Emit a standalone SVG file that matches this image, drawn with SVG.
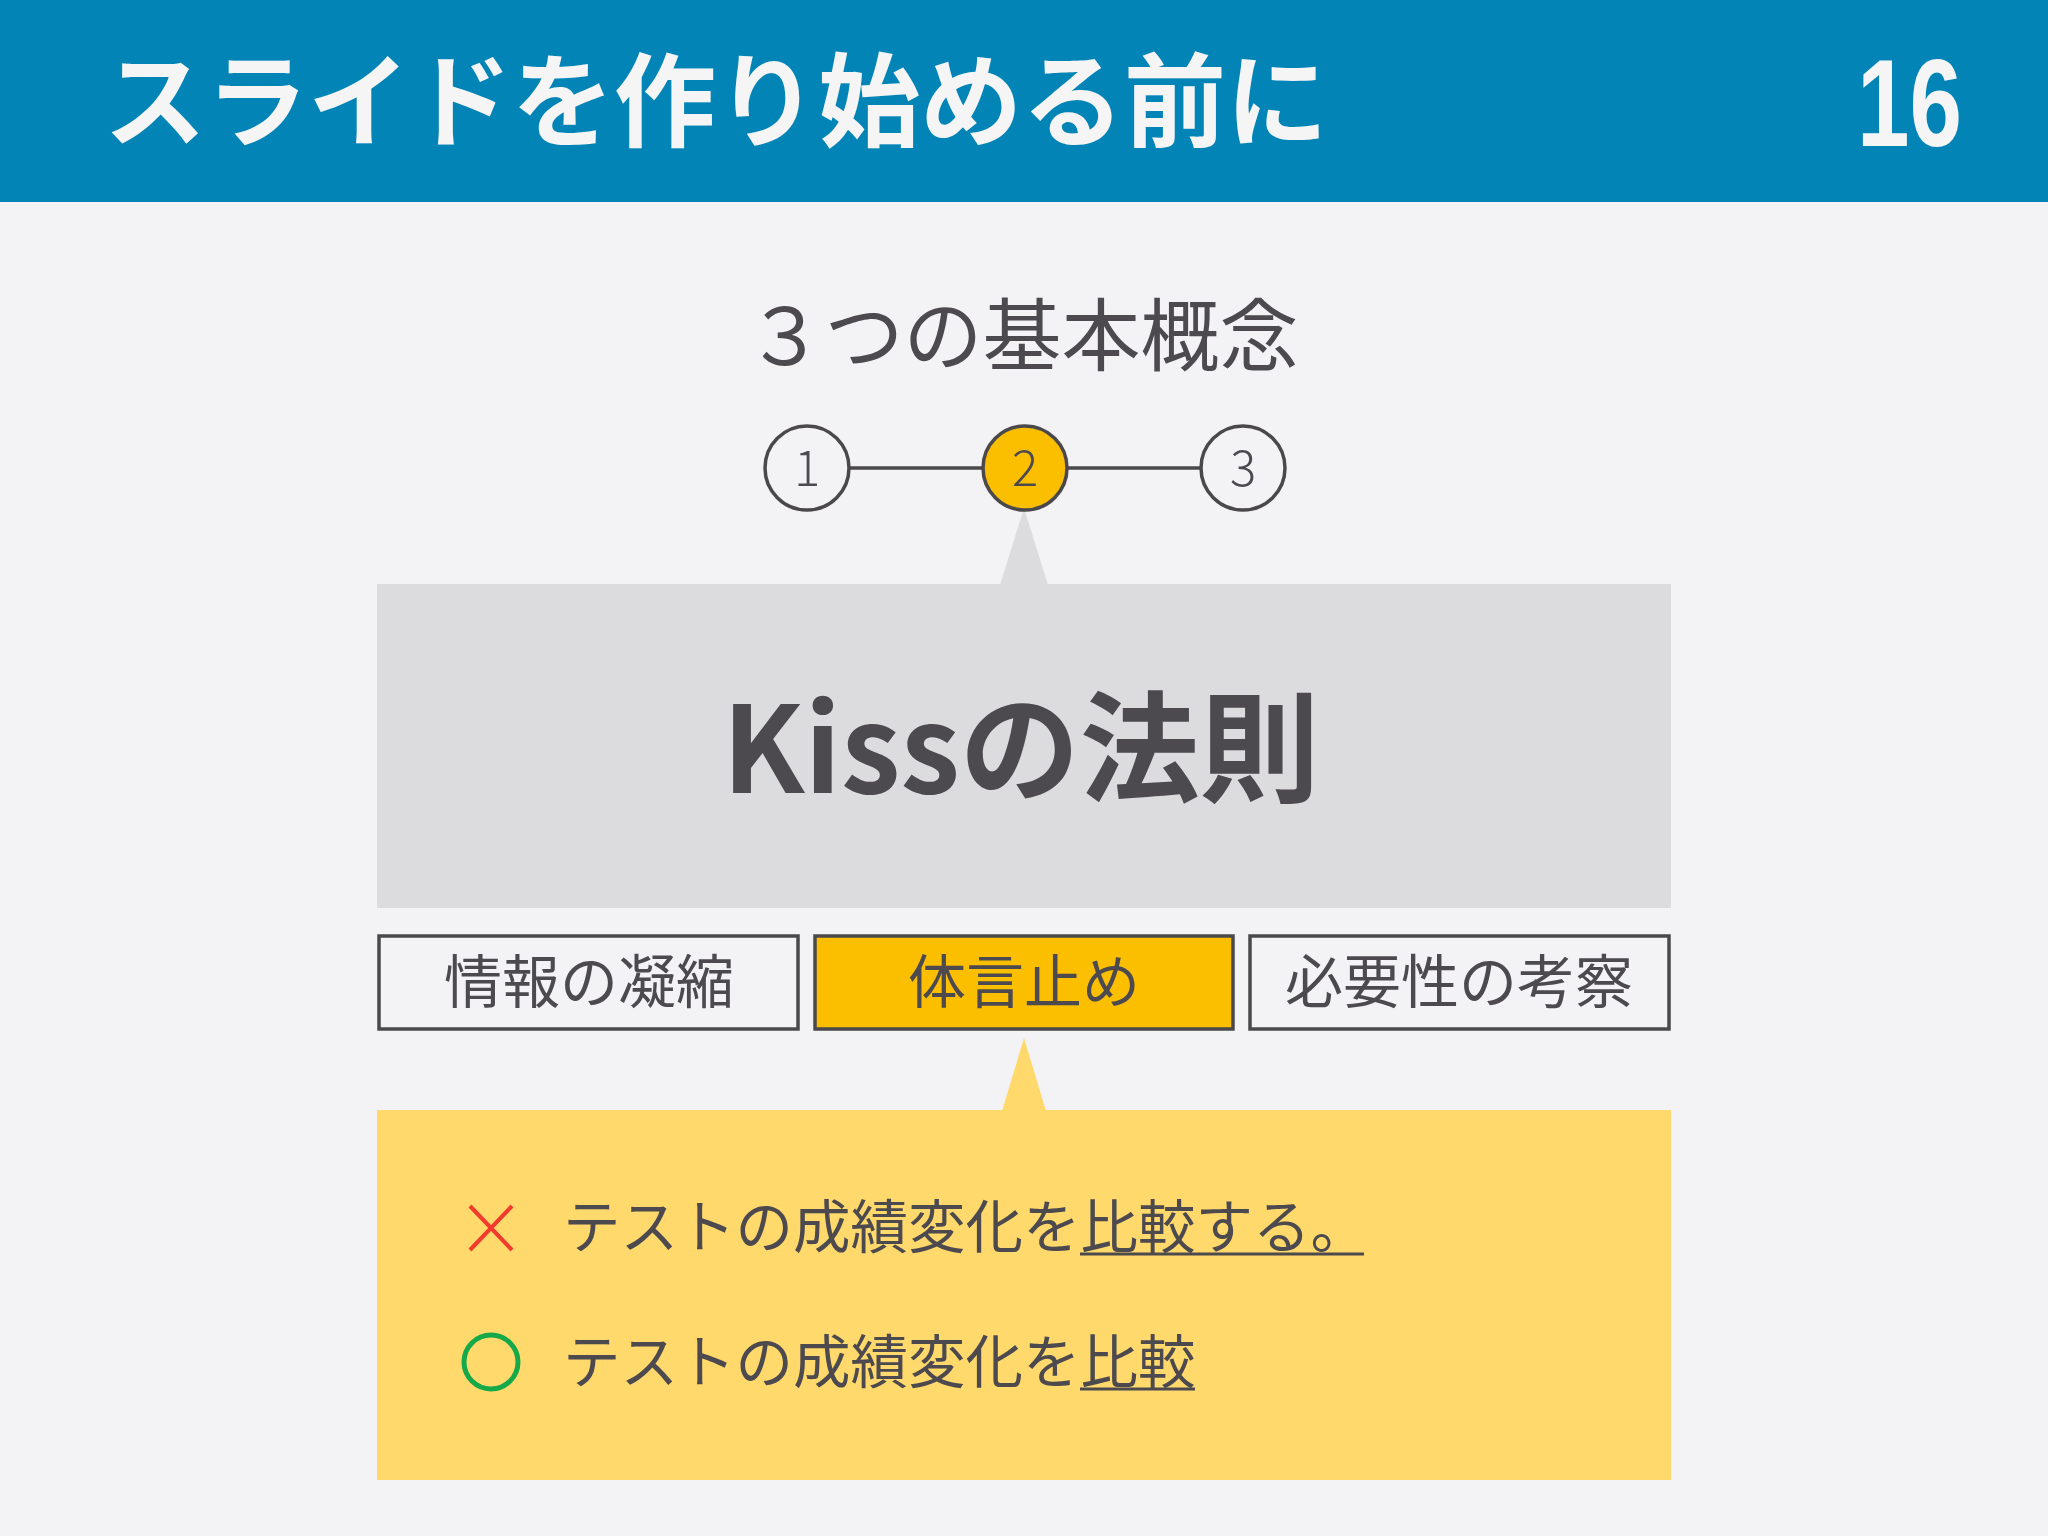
<svg xmlns="http://www.w3.org/2000/svg" width="2048" height="1536" viewBox="0 0 2048 1536">
<style>
.jp{font-family:"Noto Sans CJK JP","Noto Sans",sans-serif;fill:#4D4A4F}
.circ{stroke:#4A484B;stroke-width:3.5}
.box{stroke:#4A484B;stroke-width:3.5}
</style>
<rect x="0" y="0" width="2048" height="1536" fill="#F3F2F4"/>
<g id="header">
<rect x="0" y="0" width="2048" height="202" fill="#0284B6"/>
<text x="104" y="139" font-family="Noto Sans CJK JP, sans-serif" font-weight="700" font-size="102" fill="#F5F5F5">スライドを作り始める前に</text>
<text x="1857" y="146" font-family="Liberation Sans, sans-serif" font-weight="700" font-size="124" fill="#F5F5F5" textLength="105" lengthAdjust="spacingAndGlyphs">16</text>
</g>
<g id="subtitle">
<text class="jp" x="1022" y="365" font-size="79" text-anchor="middle">３つの基本概念</text>
</g>
<g id="connectors">
<line x1="849" y1="468" x2="1201" y2="468" stroke="#4A484B" stroke-width="3.5"/>
<polygon points="1024,508 1000,585 1048,585" fill="#DCDBDE"/>
<polygon points="1024,1038 1002,1111 1046,1111" fill="#FFD96B"/>
</g>
<g id="step1">
<circle class="circ" cx="807" cy="468" r="42" fill="#F3F2F4"/>
<text class="jp" x="807" y="486" font-size="49" font-weight="300" text-anchor="middle">1</text>
</g>
<g id="step2">
<circle class="circ" cx="1025" cy="468" r="42" fill="#FBBF00"/>
<text class="jp" x="1025" y="486" font-size="49" font-weight="300" text-anchor="middle">2</text>
</g>
<g id="step3">
<circle class="circ" cx="1243" cy="468" r="42" fill="#F3F2F4"/>
<text class="jp" x="1243" y="486" font-size="49" font-weight="300" text-anchor="middle">3</text>
</g>
<g id="main-box">
<rect x="377" y="584" width="1294" height="324" fill="#DCDBDE"/>
<text class="jp" x="1021" y="793" font-size="120" font-weight="700" text-anchor="middle">Kissの法則</text>
</g>
<g id="item1">
<rect class="box" x="379" y="936" width="419" height="93" fill="#F3F2F4"/>
<text class="jp" x="589" y="1003" font-size="58" text-anchor="middle">情報の凝縮</text>
</g>
<g id="item2">
<rect class="box" x="815" y="936" width="418" height="93" fill="#FBBF00"/>
<text class="jp" x="1024" y="1003" font-size="58" text-anchor="middle">体言止め</text>
</g>
<g id="item3">
<rect class="box" x="1250" y="936" width="419" height="93" fill="#F3F2F4"/>
<text class="jp" x="1459" y="1003" font-size="58" text-anchor="middle">必要性の考察</text>
</g>
<g id="example-box">
<rect x="377" y="1110" width="1294" height="370" fill="#FFD96B"/>
<path d="M470,1206 L512,1250 M512,1206 L470,1250" stroke="#F23B2C" stroke-width="4" fill="none"/>
<text class="jp" x="563" y="1248" font-size="57.5">テストの成績変化を比較する。</text>
<line x1="1080" y1="1254" x2="1364" y2="1254" stroke="#4D4A4F" stroke-width="3"/>
<circle cx="491" cy="1362" r="27" fill="none" stroke="#16A94A" stroke-width="5"/>
<text class="jp" x="563" y="1383" font-size="57.5">テストの成績変化を比較</text>
<line x1="1080" y1="1389" x2="1195" y2="1389" stroke="#4D4A4F" stroke-width="3"/>
</g>
</svg>
